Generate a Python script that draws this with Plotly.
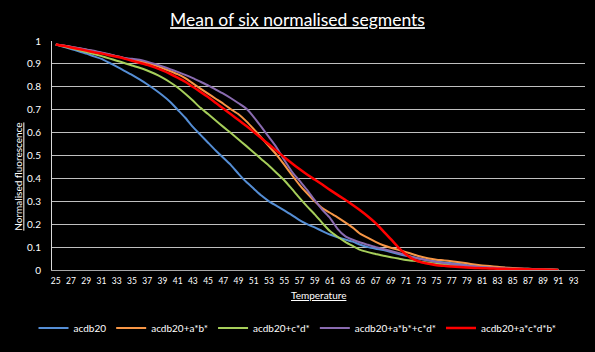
import plotly.graph_objects as go

temps = list(range(25, 92))

acdb20 = [0.985, 0.975, 0.965, 0.955, 0.945, 0.933, 0.922, 0.905, 0.888, 0.870,
          0.852, 0.832, 0.811, 0.788, 0.763, 0.735, 0.700, 0.665, 0.625, 0.590,
          0.556, 0.522, 0.490, 0.458, 0.420, 0.385, 0.355, 0.325, 0.300, 0.280,
          0.260, 0.240, 0.218, 0.200, 0.186, 0.170, 0.155, 0.143, 0.133, 0.124,
          0.110, 0.100, 0.093, 0.087, 0.079, 0.070, 0.062, 0.055, 0.048, 0.042,
          0.037, 0.033, 0.030, 0.026, 0.022, 0.019, 0.016, 0.013, 0.011, 0.010,
          0.008, 0.006, 0.005, 0.004, 0.003, 0.002, 0.001]

acdb20_ab = [0.985, 0.980, 0.974, 0.968, 0.962, 0.955, 0.948, 0.941, 0.933, 0.925,
             0.918, 0.912, 0.904, 0.894, 0.882, 0.869, 0.855, 0.838, 0.815, 0.792,
             0.770, 0.748, 0.726, 0.702, 0.680, 0.650, 0.615, 0.578, 0.540, 0.503,
             0.460, 0.415, 0.372, 0.335, 0.300, 0.270, 0.250, 0.230, 0.208, 0.185,
             0.158, 0.140, 0.123, 0.108, 0.097, 0.088, 0.078, 0.068, 0.058, 0.050,
             0.045, 0.042, 0.038, 0.034, 0.029, 0.024, 0.020, 0.017, 0.014, 0.011,
             0.009, 0.007, 0.005, 0.004, 0.003, 0.002, 0.001]

acdb20_cd = [0.985, 0.977, 0.969, 0.961, 0.952, 0.943, 0.934, 0.924, 0.914, 0.904,
             0.893, 0.883, 0.871, 0.857, 0.840, 0.820, 0.797, 0.770, 0.740, 0.708,
             0.681, 0.653, 0.625, 0.598, 0.570, 0.542, 0.513, 0.484, 0.455, 0.424,
             0.392, 0.354, 0.315, 0.278, 0.243, 0.205, 0.170, 0.145, 0.123, 0.105,
             0.088, 0.078, 0.070, 0.062, 0.056, 0.050, 0.044, 0.040, 0.036, 0.032,
             0.028, 0.024, 0.021, 0.018, 0.015, 0.013, 0.011, 0.009, 0.008, 0.006,
             0.005, 0.004, 0.003, 0.002, 0.002, 0.001, 0.000]

acdb20_ab_cd = [0.985, 0.980, 0.975, 0.969, 0.963, 0.957, 0.950, 0.942, 0.934, 0.926,
                0.922, 0.918, 0.910, 0.900, 0.889, 0.877, 0.865, 0.852, 0.838, 0.822,
                0.806, 0.788, 0.770, 0.750, 0.728, 0.705, 0.668, 0.625, 0.580, 0.535,
                0.480, 0.430, 0.390, 0.350, 0.305, 0.263, 0.228, 0.180, 0.148, 0.132,
                0.120, 0.110, 0.100, 0.092, 0.083, 0.074, 0.065, 0.056, 0.048, 0.041,
                0.035, 0.030, 0.026, 0.022, 0.019, 0.016, 0.013, 0.011, 0.009, 0.007,
                0.006, 0.005, 0.004, 0.003, 0.002, 0.001, 0.000]

acdb20_acdb = [0.985, 0.979, 0.972, 0.965, 0.958, 0.951, 0.945, 0.938, 0.931, 0.923,
               0.914, 0.905, 0.896, 0.885, 0.872, 0.857, 0.840, 0.822, 0.800, 0.778,
               0.755, 0.730, 0.705, 0.680, 0.655, 0.630, 0.603, 0.575, 0.548, 0.520,
               0.492, 0.466, 0.441, 0.417, 0.395, 0.373, 0.350, 0.328, 0.307, 0.284,
               0.260, 0.234, 0.205, 0.170, 0.135, 0.098, 0.068, 0.046, 0.034, 0.027,
               0.021, 0.018, 0.015, 0.013, 0.011, 0.009, 0.008, 0.007, 0.006, 0.005,
               0.004, 0.004, 0.003, 0.002, 0.002, 0.001, 0.000]

series = [
    ("acdb20", acdb20, "#558ED5"),
    ("acdb20+a*b*", acdb20_ab, "#F79646"),
    ("acdb20+c*d*", acdb20_cd, "#A6CE5A"),
    ("acdb20+a*b*+c*d*", acdb20_ab_cd, "#8A6BB0"),
    ("acdb20+a*c*d*b*", acdb20_acdb, "#FF0000"),
]

x_ticks = list(range(25, 94, 2))
y_ticks = [round(i * 0.1, 1) for i in range(11)]

FONT = "Lato, 'Open Sans', sans-serif"

fig = go.Figure()
for name, vals, col in series:
    fig.add_trace(go.Scatter(
        x=temps, y=vals, mode="lines", name=name,
        line=dict(color=col, width=2.5 if col == "#FF0000" else 2, shape="spline", smoothing=0.6),
    ))

fig.update_layout(
    width=595, height=352,
    paper_bgcolor="black", plot_bgcolor="black",
    margin=dict(l=52, r=10, t=41, b=73),
    font=dict(family=FONT, color="white", size=10),
    title=dict(text="<u>Mean of six normalised segments</u>", x=0.5, xanchor="center",
               y=1 - 20 / 352, yanchor="middle", font=dict(size=17.5, color="white", family=FONT)),
    showlegend=True,
    legend=dict(orientation="h", x=(297.5 - 52) / 533, xanchor="center", y=-0.19, yanchor="top",
                font=dict(size=10, color="white", family=FONT), itemwidth=30,
                bgcolor="rgba(0,0,0,0)", tracegroupgap=0),
    xaxis=dict(range=[24.5, 94.5], tickmode="array", tickvals=x_ticks,
               ticktext=[str(t) for t in x_ticks], showgrid=False, zeroline=False,
               showline=True, linecolor="#a6a6a6", linewidth=1,
               tickfont=dict(size=8.5, color="white"), ticks="", ticklabelstandoff=3),
    yaxis=dict(range=[0, 1], tickmode="array", tickvals=y_ticks,
               ticktext=["0"] + [str(v) for v in y_ticks[1:10]] + ["1"],
               showgrid=True, gridcolor="#bfbfbf", gridwidth=1, zeroline=False,
               showline=True, linecolor="#d9d9d9", linewidth=1,
               tickfont=dict(size=10, color="white"), ticks="", ticklabelstandoff=8),
    annotations=[
        dict(text="<u>Temperature</u>", xref="paper", yref="paper", x=0.5, y=(279 - 305) / 238,
             showarrow=False, font=dict(size=10, color="white", family=FONT),
             xanchor="center", yanchor="middle"),
        dict(text="<u>Normalised fluorescence</u>", xref="paper", yref="paper",
             x=(18 - 52) / 533, y=(279 - 182) / 238, textangle=-90,
             showarrow=False, font=dict(size=10, color="white", family=FONT),
             xanchor="center", yanchor="middle"),
    ],
)

fig.write_html("out.html")
